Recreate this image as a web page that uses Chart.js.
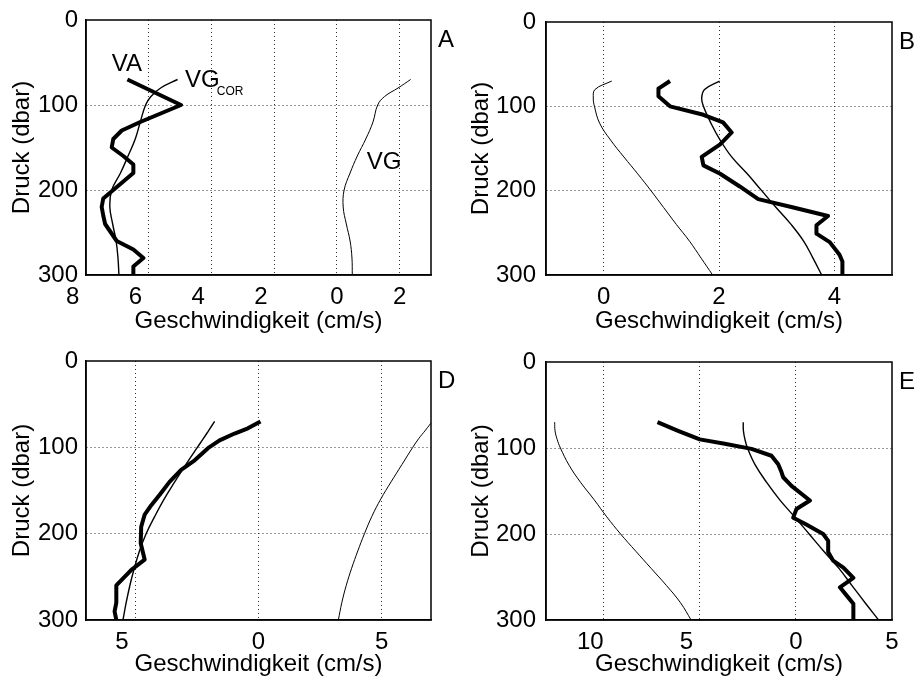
<!DOCTYPE html>
<html lang="de">
<head>
<meta charset="UTF-8">
<title>Geschwindigkeitsprofile</title>
<script src="https://cdn.jsdelivr.net/npm/chart.js@4.4.1/dist/chart.umd.min.js"></script>
<style>
    html, body { margin: 0; padding: 0; background: #fff; }
    body { width: 917px; height: 683px; position: relative; overflow: hidden; }
    canvas { position: absolute; }
    #cA { left: 0; top: 0; }
    #cB { left: 458px; top: 0; }
    #cD { left: 0; top: 340px; }
    #cE { left: 458px; top: 340px; }
</style>
</head>
<body>
<canvas id="cA" width="458" height="340"></canvas>
<canvas id="cB" width="459" height="340"></canvas>
<canvas id="cD" width="458" height="343"></canvas>
<canvas id="cE" width="459" height="343"></canvas>
<script>
// pressure levels (dbar) of the smooth VG / VG_COR profiles
const depthThin = [70, 80, 90, 100, 120, 140, 160, 180, 200, 220, 240, 260, 280, 300];
const yTicks = [0, 100, 200, 300];

// panel A
const depthVA_A = [70, 100, 120, 130, 140, 150, 160, 170, 180, 190, 200, 210, 220, 230, 240, 260, 270, 280, 290, 300];
const velVA_A  = [-6.68, -4.97, -6.27, -6.86, -7.13, -7.18, -6.81, -6.49, -6.49, -6.81, -7.13, -7.45, -7.5, -7.45, -7.39, -7.02, -6.49, -6.17, -6.49, -6.49];
const velCOR_A = [-5.08, -5.62, -5.93, -6.1, -6.27, -6.43, -6.66, -6.9, -7.18, -7.24, -7.15, -7.04, -6.98, -6.95];
const velVG_A  = [2.35, 1.95, 1.52, 1.3, 1.15, 0.92, 0.65, 0.42, 0.23, 0.2, 0.3, 0.42, 0.48, 0.49];
const xTicksA = [-8, -6, -4, -2, 0, 2];
const noteTextA = ['VA', 'VG', 'VG'];
const noteSubA  = ['', 'COR', ''];
const noteVelA  = [-7.18, -4.84, 0.95];
const notePresA = [52, 71, 167];

// panel B
const depthVA_B = [70, 79, 88, 100, 110, 119, 131, 145, 160, 170, 180, 195, 210, 220, 230, 241, 251, 261, 276, 284, 300];
const velVA_B  = [1.15, 0.95, 0.95, 1.15, 1.73, 2.07, 2.22, 2.02, 1.70, 1.73, 2.02, 2.36, 2.68, 3.29, 3.89, 3.69, 3.69, 3.92, 4.09, 4.14, 4.14];
const velCOR_B = [2.01, 1.75, 1.70, 1.73, 1.86, 2.02, 2.22, 2.49, 2.74, 2.99, 3.25, 3.47, 3.63, 3.78];
const velVG_B  = [0.14, -0.15, -0.18, -0.16, -0.07, 0.12, 0.35, 0.59, 0.82, 1.04, 1.26, 1.49, 1.69, 1.89];
const xTicksB = [0, 2, 4];

// panel D
const depthVA_D = [70, 78, 84, 92, 101, 115, 126, 140, 155, 167, 178, 192, 211, 230, 242, 260, 280, 290, 300];
const velVA_D  = [0.08, -0.43, -0.97, -1.58, -2.05, -2.59, -3.14, -3.61, -4.01, -4.35, -4.62, -4.76, -4.78, -4.62, -5.16, -5.77, -5.77, -5.84, -5.77];
const velCOR_D = [-1.78, -2.01, -2.24, -2.48, -2.95, -3.40, -3.83, -4.21, -4.56, -4.83, -5.04, -5.22, -5.37, -5.5];
const velVG_D  = [7.05, 6.78, 6.5, 6.26, 5.82, 5.38, 4.96, 4.6, 4.3, 4.03, 3.78, 3.56, 3.38, 3.24];
const xTicksD = [-5, 0, 5];

// panel E
const depthVA_E = [70, 80, 90, 95, 101, 109, 119, 128, 134, 144, 161, 171, 181, 188, 200, 208, 221, 231, 239, 251, 262, 274, 281, 300];
const velVA_E  = [-7.2, -6.13, -5.0, -3.7, -2.31, -1.27, -0.92, -0.75, -0.66, -0.23, 0.73, 0.03, -0.14, 0.47, 1.42, 1.68, 1.68, 1.94, 2.47, 2.99, 2.29, 2.73, 2.99, 2.99];
const velCOR_E = [-2.74, -2.73, -2.65, -2.52, -2.11, -1.52, -0.85, -0.07, 0.69, 1.45, 2.24, 2.92, 3.6, 4.3];
const velVG_E  = [-12.55, -12.53, -12.42, -12.25, -11.8, -11.2, -10.5, -9.84, -9.12, -8.33, -7.53, -6.73, -6.0, -5.45];
const xTicksE = [-10, -5, 0, 5];

const FONT = '"Liberation Sans", Arial, Helvetica, sans-serif';
const FS = 24;
Chart.defaults.font.family = FONT;
Chart.defaults.color = '#000';

function toXY(vel, depth) {
    return vel.map((v, i) => ({ x: v, y: depth[i] }));
}

// frame round the plot, panel letter and the in-plot labels
const panelText = {
    id: 'panelText',
    afterDatasetsDraw(chart, args, opts) {
        const { ctx, chartArea: ca, scales } = chart;
        ctx.save();
        ctx.strokeStyle = '#000';
        ctx.lineWidth = 1.5;
        ctx.strokeRect(ca.left, ca.top, ca.right - ca.left, ca.bottom - ca.top);
        ctx.fillStyle = '#000';
        ctx.textBaseline = 'middle';
        ctx.textAlign = 'left';
        ctx.font = FS + 'px ' + FONT;
        ctx.fillText(opts.letter, ca.right + 7, ca.top + 20);
        (opts.texts || []).forEach((t, i) => {
            const px = scales.x.getPixelForValue(opts.vels[i]);
            const py = scales.y.getPixelForValue(opts.pres[i]);
            ctx.font = FS + 'px ' + FONT;
            ctx.fillText(t, px, py);
            if (opts.subs[i]) {
                const w = ctx.measureText(t).width;
                ctx.font = '12px ' + FONT;
                ctx.fillText(opts.subs[i], px + w - 3, py + 11);
            }
        });
        ctx.restore();
    }
};

function panel(id, cfg) {
    const gridColor = (min, max) => (c) =>
        (c.tick && (c.tick.value === min || c.tick.value === max)) ? 'rgba(0,0,0,0)' : '#333';
    new Chart(document.getElementById(id), {
        type: 'line',
        data: {
            datasets: [
                { data: toXY(cfg.vg, depthThin), borderColor: '#000', borderWidth: 1, pointRadius: 0, tension: 0.4 },
                { data: toXY(cfg.cor, depthThin), borderColor: '#000', borderWidth: 1.4, pointRadius: 0, tension: 0.4 },
                { data: toXY(cfg.va, cfg.vaDepth), borderColor: '#000', borderWidth: 4, pointRadius: 0, tension: 0, borderJoinStyle: 'round' }
            ]
        },
        options: {
            responsive: false,
            animation: false,
            events: [],
            layout: { padding: { top: cfg.padTop, right: cfg.padRight, left: 0, bottom: 0 } },
            plugins: {
                legend: { display: false },
                tooltip: { enabled: false },
                panelText: { letter: cfg.letter, texts: cfg.texts, subs: cfg.subs, vels: cfg.nvel, pres: cfg.npres }
            },
            scales: {
                x: {
                    type: 'linear',
                    min: cfg.xMin, max: cfg.xMax,
                    afterBuildTicks: (ax) => { ax.ticks = cfg.xTicks.map(v => ({ value: v })); },
                    afterFit: (ax) => { ax.height = cfg.xAxisH; },
                    grid: { color: gridColor(cfg.xMin, cfg.xMax), lineWidth: 1, drawTicks: false },
                    border: { display: true, color: '#000', width: 1.5, dash: [1, 3] },
                    ticks: {
                        font: { size: FS, lineHeight: 1 },
                        padding: 10,
                        autoSkip: false,
                        maxRotation: 0,
                        callback: (v) => v < 0 ? Math.abs(v) + '    ' : String(v)
                    },
                    title: {
                        display: true, text: 'Geschwindigkeit (cm/s)',
                        font: { size: FS, lineHeight: 1 },
                        padding: { top: 0, bottom: 7 }
                    }
                },
                y: {
                    type: 'linear',
                    reverse: true,
                    min: 0, max: 300,
                    afterBuildTicks: (ax) => { ax.ticks = yTicks.map(v => ({ value: v })); },
                    afterFit: (ax) => { ax.width = cfg.yAxisW; },
                    grid: { color: gridColor(0, 300), lineWidth: 1, drawTicks: false },
                    border: { display: true, color: '#000', width: 1.5, dash: [1, 3] },
                    ticks: { font: { size: FS, lineHeight: 1 }, padding: cfg.yPad },
                    title: {
                        display: true, text: 'Druck (dbar)',
                        font: { size: FS, lineHeight: 1 },
                        padding: { top: cfg.yTitlePad, bottom: 0 }
                    }
                }
            }
        },
        plugins: [panelText]
    });
}

panel('cA', {
    letter: 'A', xMin: -8, xMax: 3, xTicks: xTicksA,
    va: velVA_A, vaDepth: depthVA_A, cor: velCOR_A, vg: velVG_A,
    texts: noteTextA, subs: noteSubA, nvel: noteVelA, npres: notePresA,
    padTop: 15, padRight: 27, xAxisH: 65, yAxisW: 86, yPad: 8, yTitlePad: 10
});
panel('cB', {
    letter: 'B', xMin: -1, xMax: 5, xTicks: xTicksB,
    va: velVA_B, vaDepth: depthVA_B, cor: velCOR_B, vg: velVG_B,
    padTop: 15, padRight: 25, xAxisH: 65, yAxisW: 88, yPad: 10, yTitlePad: 11
});
panel('cD', {
    letter: 'D', xMin: -7, xMax: 7, xTicks: xTicksD,
    va: velVA_D, vaDepth: depthVA_D, cor: velCOR_D, vg: velVG_D,
    padTop: 21, padRight: 27, xAxisH: 63, yAxisW: 86, yPad: 8, yTitlePad: 10
});
panel('cE', {
    letter: 'E', xMin: -13, xMax: 5, xTicks: xTicksE,
    va: velVA_E, vaDepth: depthVA_E, cor: velCOR_E, vg: velVG_E,
    padTop: 21, padRight: 25, xAxisH: 63, yAxisW: 88, yPad: 10, yTitlePad: 11
});
</script>
</body>
</html>
